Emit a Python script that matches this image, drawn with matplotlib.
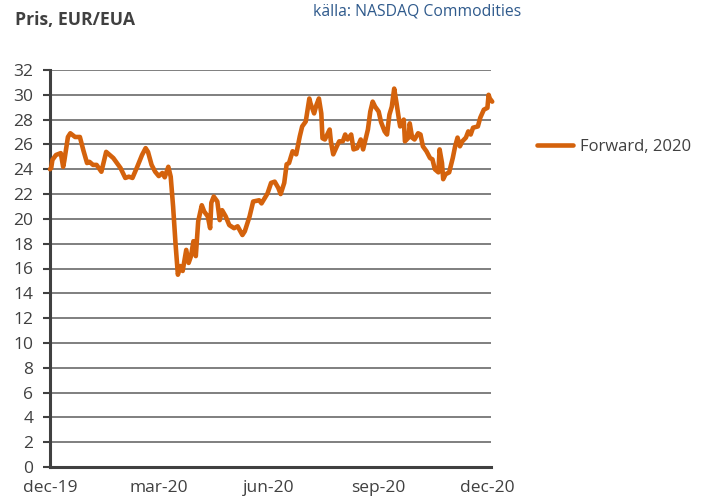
import numpy as np
import pandas as pd
import matplotlib
matplotlib.use("Agg")
import matplotlib.pyplot as plt

dates = [
    "2019-12-01", "2019-12-02", "2019-12-03", "2019-12-06", "2019-12-10", "2019-12-12",
    "2019-12-13", "2019-12-16", "2019-12-18", "2019-12-22", "2019-12-26", "2019-12-29",
    "2020-01-01", "2020-01-03", "2020-01-06", "2020-01-09", "2020-01-13", "2020-01-17",
    "2020-01-20", "2020-01-23", "2020-01-26", "2020-01-29", "2020-02-02", "2020-02-05",
    "2020-02-08", "2020-02-12", "2020-02-16", "2020-02-19", "2020-02-21", "2020-02-24",
    "2020-02-27", "2020-03-01", "2020-03-04", "2020-03-06", "2020-03-09", "2020-03-11",
    "2020-03-13", "2020-03-15", "2020-03-17", "2020-03-19", "2020-03-21", "2020-03-24",
    "2020-03-26", "2020-03-28", "2020-03-30", "2020-04-01", "2020-04-03", "2020-04-06",
    "2020-04-08", "2020-04-11", "2020-04-13", "2020-04-14", "2020-04-16", "2020-04-19",
    "2020-04-21", "2020-04-23", "2020-04-26", "2020-04-29", "2020-05-03", "2020-05-06",
    "2020-05-10", "2020-05-12", "2020-05-16", "2020-05-19", "2020-05-24", "2020-05-26",
    "2020-05-31", "2020-06-03", "2020-06-06", "2020-06-09", "2020-06-11", "2020-06-14",
    "2020-06-16", "2020-06-18", "2020-06-21", "2020-06-24", "2020-06-27", "2020-06-29",
    "2020-07-02", "2020-07-05", "2020-07-06", "2020-07-09", "2020-07-11", "2020-07-13",
    "2020-07-15", "2020-07-16", "2020-07-18", "2020-07-20", "2020-07-22", "2020-07-23",
    "2020-07-25", "2020-07-28", "2020-07-30", "2020-08-02", "2020-08-04", "2020-08-06",
    "2020-08-09", "2020-08-11", "2020-08-14", "2020-08-17", "2020-08-19", "2020-08-23",
    "2020-08-25", "2020-08-27", "2020-08-29", "2020-09-01", "2020-09-03", "2020-09-06",
    "2020-09-08", "2020-09-10", "2020-09-12", "2020-09-14", "2020-09-16", "2020-09-18",
    "2020-09-19", "2020-09-22", "2020-09-23", "2020-09-26", "2020-09-27", "2020-09-29",
    "2020-10-01", "2020-10-04", "2020-10-06", "2020-10-08", "2020-10-11", "2020-10-14",
    "2020-10-16", "2020-10-18", "2020-10-21", "2020-10-22", "2020-10-24", "2020-10-25",
    "2020-10-27", "2020-10-30", "2020-11-02", "2020-11-04", "2020-11-06", "2020-11-08",
    "2020-11-10", "2020-11-13", "2020-11-15", "2020-11-17", "2020-11-19", "2020-11-23",
    "2020-11-25", "2020-11-28", "2020-12-01", "2020-12-02", "2020-12-03", "2020-12-05",
]
forward_2020 = [
    24.0, 24.1, 24.75, 25.15, 25.3, 24.2,
    24.7, 26.6, 26.9, 26.6, 26.6, 25.5,
    24.5, 24.6, 24.35, 24.35, 23.8, 25.4,
    25.15, 24.9, 24.5, 24.1, 23.3, 23.4,
    23.3, 24.2, 25.15, 25.7, 25.4, 24.35,
    23.8, 23.45, 23.7, 23.35, 24.2, 23.4,
    21.0, 18.05, 15.5, 16.2, 15.8, 17.5,
    16.45, 17.0, 18.2, 17.0, 19.8, 21.1,
    20.6, 20.2, 19.25, 21.3, 21.8, 21.4,
    19.9, 20.7, 20.2, 19.5, 19.25, 19.4,
    18.7, 19.0, 20.2, 21.4, 21.5, 21.25,
    22.05, 22.9, 23.0, 22.5, 22.0, 22.9,
    24.4, 24.5, 25.45, 25.2, 26.65, 27.45,
    27.85, 29.7, 29.3, 28.5, 29.2, 29.7,
    28.5, 26.5, 26.4, 26.8, 27.2, 26.25,
    25.2, 25.85, 26.25, 26.25, 26.8, 26.4,
    26.8, 25.6, 25.7, 26.4, 25.6, 27.2,
    28.65, 29.45, 29.05, 28.65, 27.8, 27.05,
    26.8, 28.4, 29.05, 30.5, 29.3, 28.0,
    27.45, 28.0, 26.25, 26.55, 27.7, 26.55,
    26.4, 26.9, 26.8, 25.85, 25.45, 24.9,
    24.8, 24.0, 23.75, 25.6, 24.5, 23.2,
    23.6, 23.75, 24.9, 25.85, 26.55, 25.85,
    26.25, 26.55, 27.05, 26.8, 27.35, 27.45,
    28.15, 28.8, 28.95, 30.0, 29.7, 29.45,
]
tick_dates = ["2019-12-01", "2020-03-01", "2020-06-01", "2020-09-01", "2020-12-01"]
tick_labels = ["dec-19", "mar-20", "jun-20", "sep-20", "dec-20"]
y_ticks = list(range(0, 33, 2))

df = pd.DataFrame({"date": pd.to_datetime(dates), "value": forward_2020})

plt.rcParams["font.family"] = ["Open Sans", "DejaVu Sans"]
text_col = "#404040"
line_col = "#d4620c"

fig = plt.figure(figsize=(7.01, 4.99), dpi=100)
ax = fig.add_axes([50 / 701, 1 - 467 / 499, 441 / 701, 397 / 499])

ax.plot(df["date"], df["value"], color=line_col, lw=3.3, solid_joinstyle="round",
        solid_capstyle="round", clip_on=False, label="Forward, 2020", zorder=3)

ax.set_ylim(0, 32)
ax.set_yticks(y_ticks)
ax.set_xlim(pd.Timestamp("2019-12-01"), pd.Timestamp("2020-12-04"))
ax.set_xticks(pd.to_datetime(tick_dates))
ax.set_xticklabels(tick_labels)

ax.grid(axis="y", color="#7f7f7f", lw=1.4)
ax.set_axisbelow(True)
for s in ["top", "right"]:
    ax.spines[s].set_visible(False)
ax.spines["left"].set_color(text_col)
ax.spines["left"].set_linewidth(2.2)
ax.spines["bottom"].set_color(text_col)
ax.spines["bottom"].set_linewidth(2.2)
ax.tick_params(axis="y", length=5, width=1.5, color=text_col, labelcolor=text_col,
               labelsize=12.5, pad=7)
ax.tick_params(axis="x", length=0, labelcolor=text_col, labelsize=12.5, pad=9)

fig.text(15 / 701, 1 - 20 / 499, "Pris, EUR/EUA", fontsize=12.7, fontweight="bold",
         color=text_col, va="center", ha="left")
fig.text(313 / 701, 1 - 12 / 499, "källa: NASDAQ Commodities", fontsize=11.3,
         color="#2f5a8c", va="center", ha="left")

ax.legend(loc="center left", bbox_to_anchor=(537 / 701, 1 - 147 / 499),
          bbox_transform=fig.transFigure, frameon=False, fontsize=12,
          borderpad=0, borderaxespad=0, handlelength=2.15, handletextpad=0.45,
          labelcolor=text_col)

fig.savefig("out.png", dpi=100)
